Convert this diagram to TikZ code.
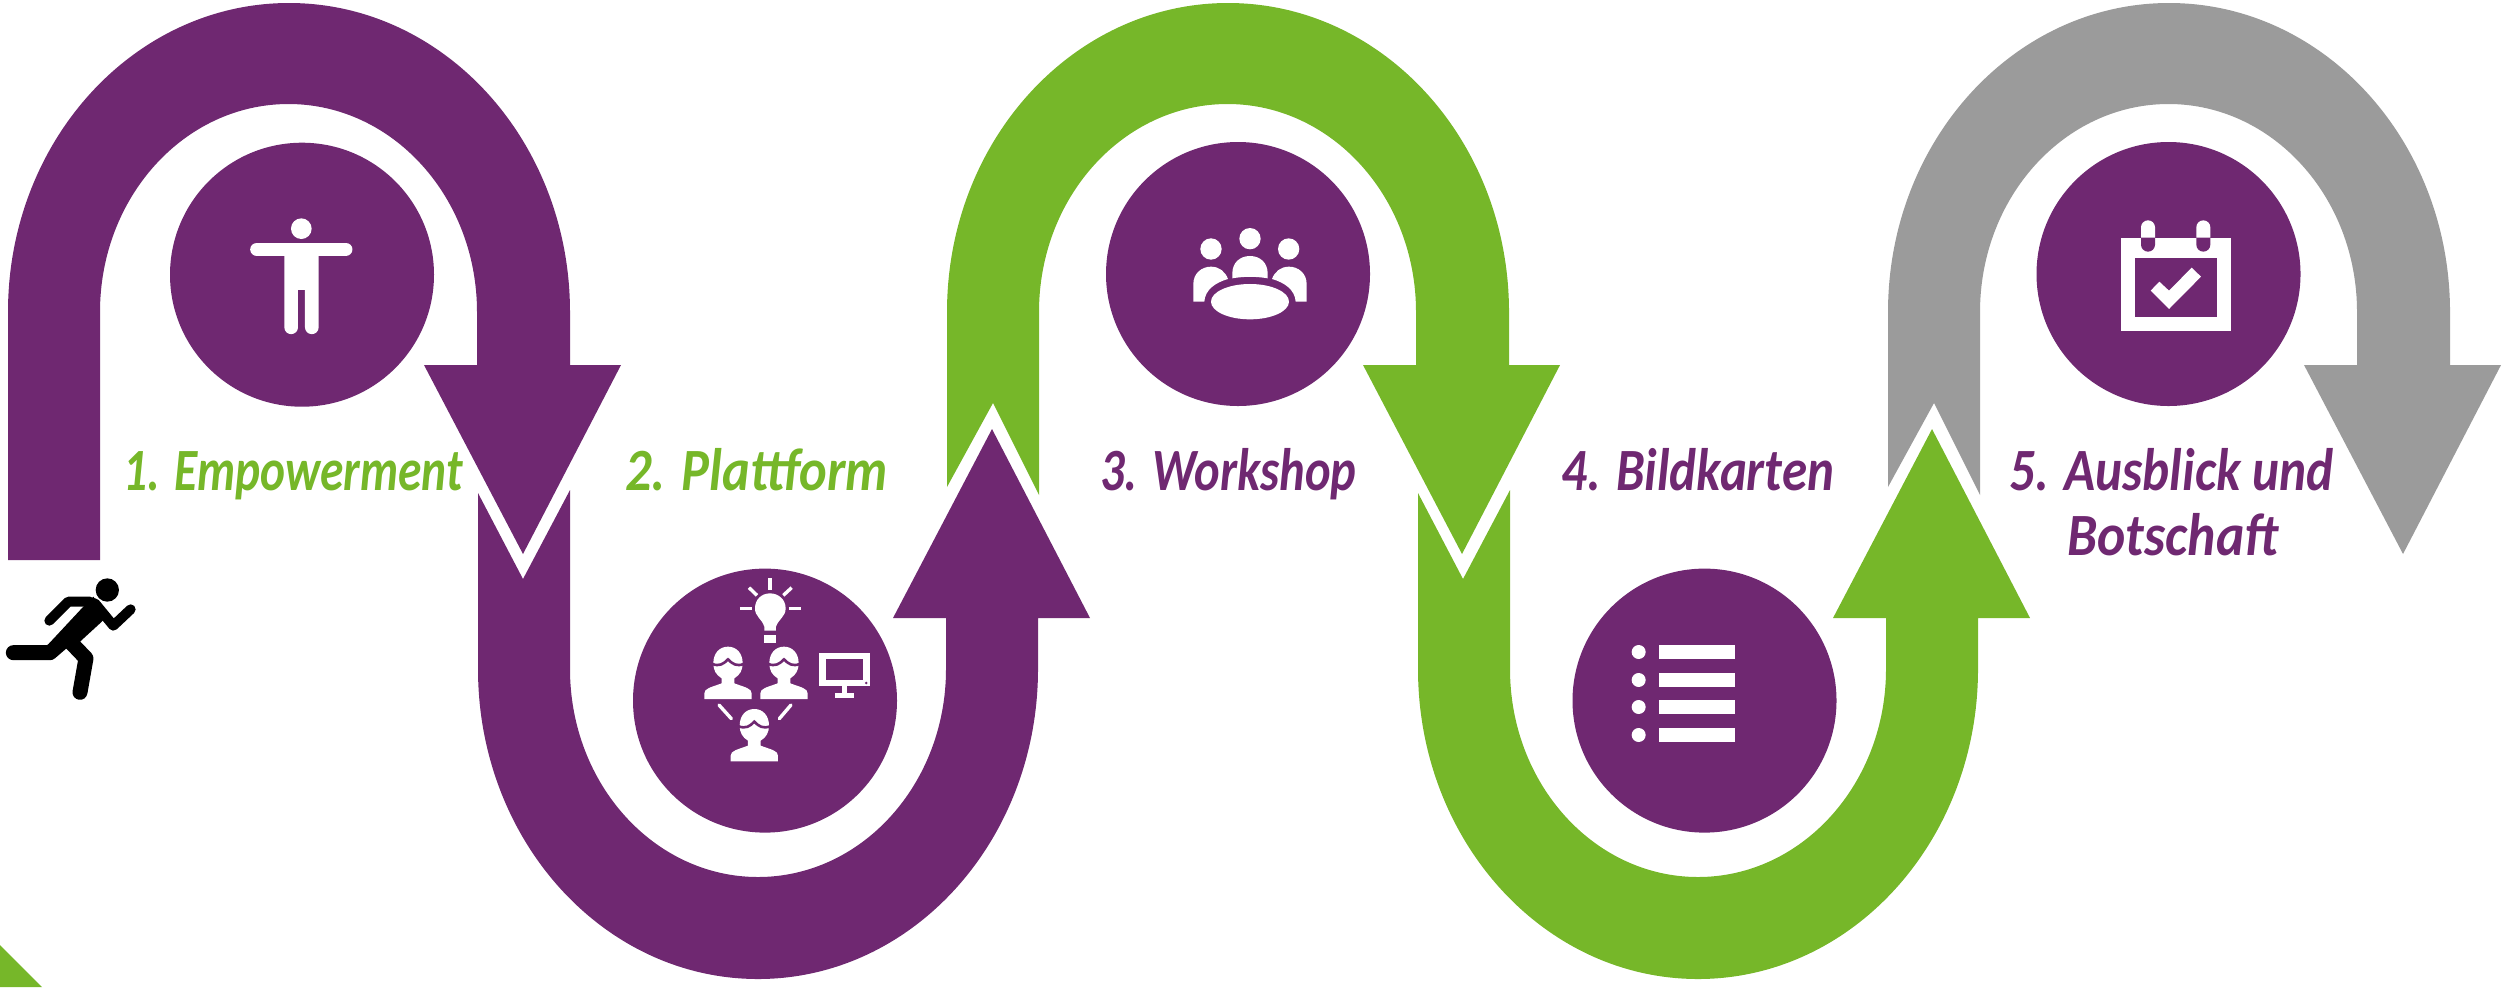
\documentclass[tikz,border=0pt]{standalone}
\usepackage{fontspec}
\setmainfont{Carlito}
\definecolor{violet}{HTML}{6F2871}
\definecolor{leaf}{HTML}{76B729}
\definecolor{stone}{HTML}{9B9B9B}

% arch from the left leg over the top into the arrow head, #1 = left edge, #2 = end of the left leg
\newcommand{\archpath}[2]{
    (#1,312) arc[start angle=180,end angle=360,x radius=281,y radius=309]
    -- (#1+562,365) -- (#1+613,365) -- (#1+515,554) -- (#1+416,365) -- (#1+469,365)
    -- (#1+469,312) arc[start angle=0,end angle=-180,x radius=188.5,y radius=208]
    #2 -- cycle
}
% bend from the notched left leg under the bottom into the arrow head
\newcommand{\bendpath}[1]{
    (#1,493) -- (#1+45,579) -- (#1+92,490)
    -- (#1+92,669) arc[start angle=180,end angle=0,x radius=188,y radius=208]
    -- (#1+468,618) -- (#1+415,618) -- (#1+514,429) -- (#1+612,618) -- (#1+560,618)
    -- (#1+560,669) arc[start angle=0,end angle=180,x radius=280,y radius=310]
    -- cycle
}
% one head and shoulders, local box 142 x 157
\newcommand{\headperson}[2]{
    \begin{scope}[shift={(#1,#2)}]
        \fill[white] (0,157) -- (0,140) .. controls (0,125) and (20,122) .. (52,110) -- (52,95)
            .. controls (35,85) and (27,70) .. (27,50) .. controls (27,20) and (45,0) .. (71,0)
            .. controls (97,0) and (115,20) .. (115,50) .. controls (115,70) and (107,85) .. (90,95)
            -- (90,110) .. controls (122,122) and (142,125) .. (142,140) -- (142,157) -- cycle;
        \draw[violet, line width=1.3pt] (24,52) .. controls (45,60) and (58,52) .. (71,38)
            .. controls (84,52) and (97,60) .. (118,52);
    \end{scope}
}

\tikzset{
    stepdisc/.style={circle, fill=violet, inner sep=0pt, minimum size=132pt},
    steptext/.style={inner sep=0pt, anchor=base west, font=\fontsize{30}{34}\selectfont\bfseries\itshape},
    thinbar/.style={white, line width=1.7pt},
    limb/.style={black, line cap=round, line join=round, line width=5pt}
}

\begin{document}
\begin{tikzpicture}[x=0.5pt, y=-0.5pt]
    \useasboundingbox (0,0) rectangle (2509,987);

    % Corner
    \fill[leaf] (0,945) -- (42,987) -- (0,987) -- cycle;

    % Arches and bends
    \fill[violet] \archpath{8}{-- (100,560) -- (8,560)};
    \fill[violet] \bendpath{478};
    \fill[leaf] \archpath{947}{-- (1039,495) -- (993,403) -- (947,487)};
    \fill[leaf] \bendpath{1418};
    \fill[stone] \archpath{1888}{-- (1980,495) -- (1934,403) -- (1888,487)};

    % Discs
    \foreach \cx/\cy/\name in {302/274.7/discA, 765/700.6/discB, 1238/274/discC, 1704.5/700.6/discD, 2168.5/274/discE} {
            \node[stepdisc] (\name) at (\cx,\cy) {};
        }

    % Labels
    \node[steptext, text=leaf, xscale=0.79] (labelA) at (123,490) {1. Empowerment};
    \node[steptext, text=leaf, xscale=0.875] (labelB) at (625,490) {2. Plattform};
    \node[steptext, text=violet, xscale=0.81] (labelC) at (1100,490) {3. Workshop};
    \node[steptext, text=violet, xscale=0.85] (labelD) at (1561,490) {4. Bildkarten};
    \node[steptext, text=violet, xscale=0.855] (labelE) at (2009,490) {5. Ausblick und};
    \node[steptext, text=violet, xscale=0.895] (labelF) at (2067,555) {Botschaft};

    % Runner
    \begin{scope}[shift={(0,560)}, scale=0.3333]
        \fill[black] (322,90) circle[radius=35];
        \fill[black] (250,140) -- (280,110) -- (325,165) -- (300,190) -- (240,245) -- (190,265) -- (140,258) -- cycle;
        \draw[limb] (148,182) -- (205,125) -- (270,125);
        \draw[limb] (285,130) -- (340,197) -- (392,148);
        \draw[limb, line width=7.5pt] (40,278) -- (150,278) -- (200,235);
        \draw[limb, line width=7.5pt] (215,250) -- (258,295) -- (240,397);
    \end{scope}

    % Figure with open arms
    \begin{scope}[shift={(150,130)}, scale=0.3333]
        \fill[white] (454,296) circle[radius=31];
        \draw[white, line cap=round, line width=6.8pt] (321,358) -- (587,358);
        \fill[white] (403,350) -- (506,350) -- (506,592) arc[start angle=0,end angle=180,x radius=20.5,y radius=20.5]
            -- (465,480) -- (444,480) -- (444,592) arc[start angle=0,end angle=180,x radius=20.5,y radius=20.5] -- cycle;
    \end{scope}

    % Bulb, three people and a screen
    \begin{scope}[shift={(620,560)}, scale=0.3333]
        \fill[white] (433,212) -- (433,200) .. controls (425,175) and (405,170) .. (405,145)
            .. controls (405,118) and (425,100) .. (450,100) .. controls (475,100) and (497,118) .. (497,145)
            .. controls (497,170) and (477,175) .. (468,200) -- (468,212) -- cycle;
        \fill[white] (432,226) rectangle (468,248);
        \foreach \xa/\ya/\xb/\yb in {450/55/450/90, 360/146/396/146, 507/146/543/146, 387/83/411/106, 515/83/490/106} {
                \draw[thinbar] (\xa,\ya) -- (\xb,\yb);
            }
        \headperson{253}{260}
        \headperson{421}{260}
        \headperson{332}{447}
        \draw[thinbar, line cap=round] (297,435) -- (334,476);
        \draw[thinbar, line cap=round] (513,435) -- (478,476);
        \fill[white] (598,280) rectangle (749,379);
        \fill[violet] (617,298) rectangle (730,360);
        \fill[violet] (739,369) circle[radius=4];
        \fill[white] (665,379) rectangle (682,398);
        \fill[white] (646,398) rectangle (702,415);
    \end{scope}

    % Round table
    \begin{scope}[shift={(1100,140)}, scale=0.3333]
        \foreach \hx/\hy in {450/296, 333/327, 566/327} {
                \fill[white] (\hx,\hy) circle[radius=32];
            }
        \fill[white] (397,415) -- (397,400) .. controls (397,368) and (420,348) .. (450,348)
            .. controls (480,348) and (503,368) .. (503,400) -- (503,415) .. controls (470,409) and (430,409) .. (397,415) -- cycle;
        \fill[white] (280,485) -- (280,432) .. controls (280,400) and (305,380) .. (333,380)
            .. controls (358,380) and (376,395) .. (384,417) .. controls (345,428) and (315,450) .. (313,485) -- cycle;
        \fill[white] (620,485) -- (620,432) .. controls (620,400) and (595,380) .. (567,380)
            .. controls (542,380) and (524,395) .. (516,417) .. controls (555,428) and (585,450) .. (587,485) -- cycle;
        \fill[white] (450,485) ellipse[x radius=117, y radius=53];
    \end{scope}

    % List
    \begin{scope}[shift={(1570,560)}, scale=0.3333]
        \foreach \ry in {276, 360, 441, 525} {
                \fill[white] (206,\ry) circle[radius=21];
                \fill[white] (267,\ry-21) rectangle (495,\ry+21);
            }
    \end{scope}

    % Calendar
    \begin{scope}[shift={(2030,140)}, scale=0.3333]
        \fill[white] (272,293) rectangle (603,572);
        \fill[violet] (314,355) rectangle (561,530);
        \foreach \rx in {354, 520} {
                \fill[violet] (\rx-21,293) -- (\rx+21,293) -- (\rx+21,314) arc[start angle=0,end angle=180,x radius=21,y radius=21] -- cycle;
                \fill[white] (\rx-21,293) -- (\rx-21,262) arc[start angle=180,end angle=360,x radius=21,y radius=21] -- (\rx+21,293) -- cycle;
            }
        \fill[white] (362,452) -- (388,425) -- (417,452) -- (485,383) -- (513,410) -- (417,507) -- cycle;
    \end{scope}
\end{tikzpicture}
\end{document}
